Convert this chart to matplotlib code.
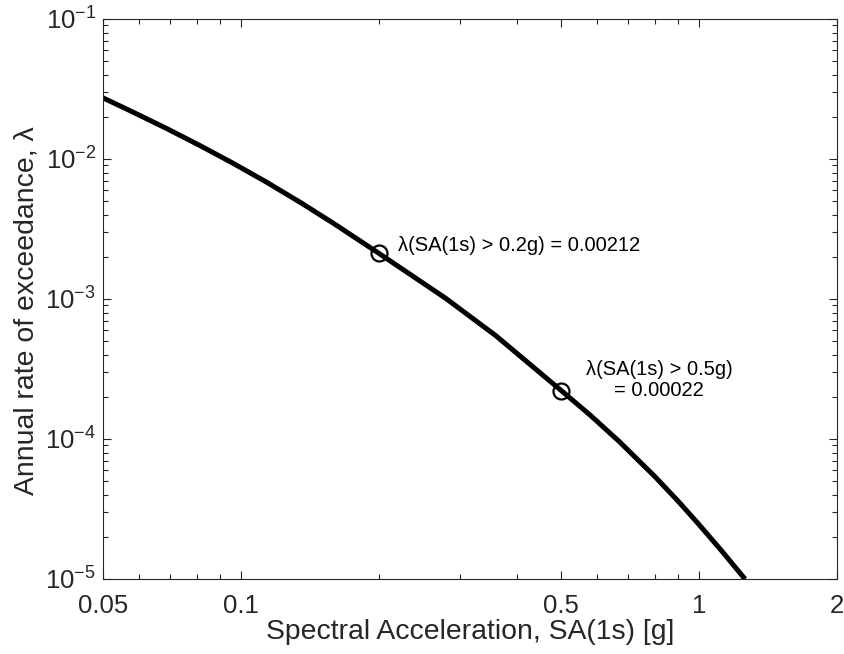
import matplotlib
matplotlib.use('Agg')
import matplotlib.pyplot as plt
from matplotlib.ticker import LogLocator, FixedLocator, FixedFormatter, NullFormatter

plt.rcParams['font.family'] = ['Liberation Sans', 'DejaVu Sans']
plt.rcParams['mathtext.fontset'] = 'custom'
plt.rcParams['mathtext.rm'] = 'Liberation Sans'
plt.rcParams['mathtext.it'] = 'Liberation Sans:italic'

# hazard curve
sa = [0.05, 0.058, 0.069, 0.081, 0.096, 0.114, 0.135, 0.159, 0.2, 0.28,
      0.36, 0.5, 0.58, 0.67, 0.8, 0.9, 1.0, 1.12, 1.25]
lam = [0.0273, 0.0217, 0.01644, 0.01257, 0.00934, 0.0068, 0.00488, 0.00348,
       0.00212, 0.00101, 0.000547, 0.000222, 0.000147, 0.0000957,
       0.0000541, 0.000036, 0.00002446, 0.0000159, 0.0000103]

pts_sa = [0.2, 0.5]
pts_lam = [0.00212, 0.00022]

xticks = [0.05, 0.1, 0.5, 1, 2]
xticklabels = ['0.05', '0.1', '0.5', '1', '2']

dark = '#262626'

fig = plt.figure(figsize=(8.45, 6.54), dpi=100)
ax = fig.add_axes([0.1219, 0.1147, 0.8686, 0.8563])

ax.plot(sa, lam, color='k', linewidth=3.6, solid_joinstyle='round')
ax.plot(pts_sa, pts_lam, 'o', markersize=11.5, markerfacecolor='none',
        markeredgecolor='k', markeredgewidth=1.6)

ax.text(0.22, 0.00239, 'λ(SA(1s) > 0.2g) = 0.00212', fontsize=14.5,
        ha='left', va='center', color='k')
ax.text(0.818, 0.000264, 'λ(SA(1s) > 0.5g)\n= 0.00022', fontsize=14.5,
        ha='center', va='center', multialignment='center', color='k',
        linespacing=1.1)

ax.set_xscale('log')
ax.set_yscale('log')
ax.set_xlim(0.05, 2)
ax.set_ylim(1e-5, 1e-1)

ax.xaxis.set_major_locator(FixedLocator(xticks))
ax.xaxis.set_major_formatter(FixedFormatter(xticklabels))
ax.xaxis.set_minor_locator(LogLocator(base=10, subs=range(2, 10), numticks=20))
ax.xaxis.set_minor_formatter(NullFormatter())
ax.yaxis.set_major_locator(LogLocator(base=10, numticks=10))
ax.yaxis.set_minor_locator(LogLocator(base=10, subs=range(2, 10), numticks=20))
ax.yaxis.set_minor_formatter(NullFormatter())

ax.tick_params(which='both', direction='in', top=True, right=True, colors=dark,
               labelsize=18.5)
ax.tick_params(which='major', length=6, width=0.8)
ax.tick_params(which='minor', length=3.5, width=0.8)
ax.tick_params(axis='x', which='major', pad=11)
ax.tick_params(axis='y', which='major', pad=5)
for s in ax.spines.values():
    s.set_color(dark)
    s.set_linewidth(0.8)

ax.set_xlabel('Spectral Acceleration, SA(1s) [g]', fontsize=20.4, color=dark)
ax.set_ylabel('Annual rate of exceedance, λ', fontsize=20.4, color=dark)
ax.xaxis.set_label_coords(0.5, -0.071)
ax.yaxis.set_label_coords(-0.087, 0.48)

fig.savefig('out.png', dpi=100)
